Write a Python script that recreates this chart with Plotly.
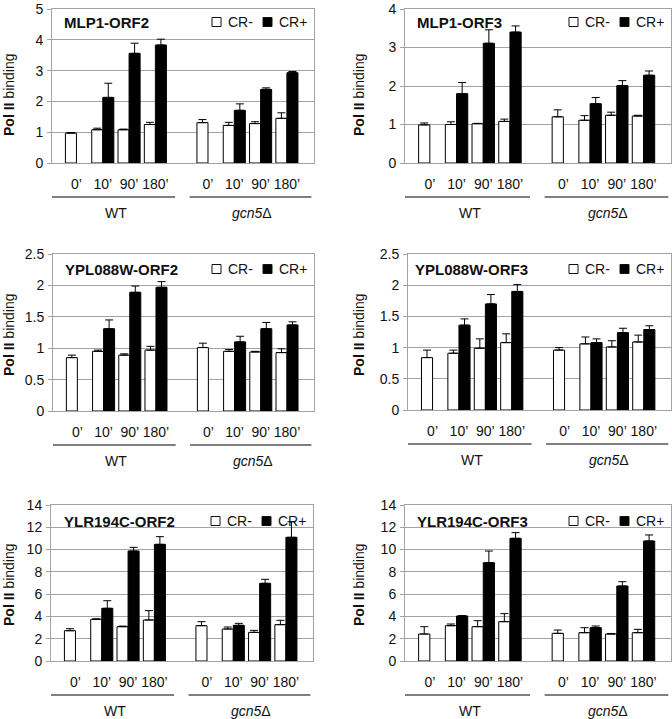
import plotly.graph_objects as go

W, H = 672, 719
FONT = "Liberation Sans, Arial, Helvetica, sans-serif"
GRID = "#a3a3a3"

# ---------------- data ----------------
times = ["0’", "10’", "90’", "180’"]
strain_keys = ["WT", "gcn5Δ"]
strain_labels = ["WT", "<i>gcn5</i>Δ"]
series_names = ["CR-", "CR+"]
series_colors = ["white", "black"]
y_title = "<b>Pol II</b> binding"

panel_titles = ["MLP1-ORF2", "MLP1-ORF3", "YPL088W-ORF2",
                "YPL088W-ORF3", "YLR194C-ORF2", "YLR194C-ORF3"]

# order: WT 0',10',90',180', gcn5Δ 0',10',90',180'
mlp1_orf2_minus = [0.97, 1.08, 1.08, 1.25, 1.31, 1.22, 1.28, 1.45]
mlp1_orf2_minus_err = [0.02, 0.05, 0.02, 0.07, 0.10, 0.10, 0.06, 0.18]
mlp1_orf2_plus = [None, 2.13, 3.56, 3.83, None, 1.71, 2.39, 2.93]
mlp1_orf2_plus_err = [None, 0.46, 0.33, 0.19, None, 0.21, 0.05, 0.04]

mlp1_orf3_minus = [0.99, 1.00, 1.02, 1.08, 1.20, 1.11, 1.24, 1.22]
mlp1_orf3_minus_err = [0.05, 0.07, 0.01, 0.06, 0.18, 0.12, 0.08, 0.02]
mlp1_orf3_plus = [None, 1.80, 3.11, 3.40, None, 1.54, 2.01, 2.28]
mlp1_orf3_plus_err = [None, 0.29, 0.35, 0.16, None, 0.16, 0.13, 0.11]

ypl088w_orf2_minus = [0.85, 0.95, 0.89, 0.97, 1.01, 0.95, 0.94, 0.93]
ypl088w_orf2_minus_err = [0.04, 0.02, 0.02, 0.06, 0.07, 0.03, 0.01, 0.06]
ypl088w_orf2_plus = [None, 1.31, 1.89, 1.97, None, 1.10, 1.31, 1.37]
ypl088w_orf2_plus_err = [None, 0.14, 0.10, 0.09, None, 0.09, 0.10, 0.05]

ypl088w_orf3_minus = [0.84, 0.91, 0.99, 1.08, 0.96, 1.06, 1.01, 1.09]
ypl088w_orf3_minus_err = [0.12, 0.05, 0.15, 0.14, 0.04, 0.11, 0.10, 0.11]
ypl088w_orf3_plus = [None, 1.36, 1.70, 1.90, None, 1.08, 1.24, 1.29]
ypl088w_orf3_plus_err = [None, 0.10, 0.15, 0.11, None, 0.06, 0.07, 0.06]

ylr194c_orf2_minus = [2.72, 3.74, 3.08, 3.68, 3.17, 2.87, 2.57, 3.26]
ylr194c_orf2_minus_err = [0.18, 0.05, 0.05, 0.84, 0.36, 0.18, 0.18, 0.39]
ylr194c_orf2_plus = [None, 4.73, 9.87, 10.47, None, 3.20, 6.97, 11.10]
ylr194c_orf2_plus_err = [None, 0.68, 0.33, 0.69, None, 0.18, 0.36, 1.40]

ylr194c_orf3_minus = [2.42, 3.17, 3.08, 3.53, 2.48, 2.54, 2.42, 2.54]
ylr194c_orf3_minus_err = [0.66, 0.15, 0.54, 0.72, 0.30, 0.45, 0.05, 0.30]
ylr194c_orf3_plus = [None, 4.04, 8.82, 11.01, None, 2.99, 6.73, 10.77]
ylr194c_orf3_plus_err = [None, 0.03, 1.05, 0.51, None, 0.15, 0.39, 0.54]

y_max = [5, 4, 2.5, 2.5, 14, 14]
y_step = [1, 1, 0.5, 0.5, 2, 2]

panels = [
    (mlp1_orf2_minus, mlp1_orf2_minus_err, mlp1_orf2_plus, mlp1_orf2_plus_err),
    (mlp1_orf3_minus, mlp1_orf3_minus_err, mlp1_orf3_plus, mlp1_orf3_plus_err),
    (ypl088w_orf2_minus, ypl088w_orf2_minus_err, ypl088w_orf2_plus, ypl088w_orf2_plus_err),
    (ypl088w_orf3_minus, ypl088w_orf3_minus_err, ypl088w_orf3_plus, ypl088w_orf3_plus_err),
    (ylr194c_orf2_minus, ylr194c_orf2_minus_err, ylr194c_orf2_plus, ylr194c_orf2_plus_err),
    (ylr194c_orf3_minus, ylr194c_orf3_minus_err, ylr194c_orf3_plus, ylr194c_orf3_plus_err),
]

# ---------------- layout geometry (pixels) ----------------
plot_boxes = [  # (left, right, top, bottom)
    (52, 314, 9, 163),
    (405, 671, 9, 163),
    (53, 314, 254, 411),
    (408, 671, 254, 410),
    (51, 313, 505, 661),
    (405, 671, 505, 661),
]
title_pos = [(62, 22), (415, 22), (63, 269), (413, 269), (62, 521), (415, 521)]
ytitle_pos = [(9, 95), (359, 95), (9, 335), (359, 335), (9, 585), (359, 585)]


def fx(p):
    return p / W


def fy(p):
    return 1 - p / H


cats = [f"{s}|{t}" for s in strain_keys for t in times]
cat_order = cats[:4] + ["gap"] + cats[4:]

fig = go.Figure()
annotations = []
shapes = []

for i, (vm, em, vp, ep) in enumerate(panels):
    n = i + 1
    xa = "x" if n == 1 else f"x{n}"
    ya = "y" if n == 1 else f"y{n}"
    for name, color, vals, errs in ((series_names[0], series_colors[0], vm, em),
                                    (series_names[1], series_colors[1], vp, ep)):
        fig.add_trace(go.Bar(
            x=cats, y=vals, name=name, xaxis=xa, yaxis=ya,
            showlegend=False,
            marker=dict(color=color, line=dict(color="black", width=1)),
            error_y=dict(type="data", array=errs, arrayminus=[0] * len(errs),
                         symmetric=False, color="black", thickness=1, width=4),
        ))

    l, r, t, b = plot_boxes[i]
    xkey = "xaxis" if n == 1 else f"xaxis{n}"
    ykey = "yaxis" if n == 1 else f"yaxis{n}"
    fig.update_layout(**{
        xkey: dict(
            domain=[fx(l), fx(r)], anchor=ya, type="category",
            categoryorder="array", categoryarray=cat_order,
            range=[-0.93, 9.03], tickmode="array", tickvals=cats,
            ticktext=times + times, ticks="", ticklabelstandoff=8,
            showline=True, mirror=True, linecolor=GRID, linewidth=1,
            showgrid=False, zeroline=False,
            tickfont=dict(family=FONT, size=14, color="#111"),
        ),
        ykey: dict(
            domain=[fy(b), fy(t)], anchor=xa, range=[0, y_max[i]],
            dtick=y_step[i], tick0=0, ticks="outside", ticklen=4,
            tickcolor=GRID, ticklabelstandoff=1, ticklabeloverflow="allow",
            showline=True, mirror=True, linecolor=GRID, linewidth=1,
            showgrid=True, gridcolor=GRID, gridwidth=1, zeroline=False,
            tickfont=dict(family=FONT, size=14, color="#111"),
        ),
    })

    # panel title
    annotations.append(dict(
        text=f"<b>{panel_titles[i]}</b>", x=fx(title_pos[i][0]), y=fy(title_pos[i][1]),
        xref="paper", yref="paper", xanchor="left", yanchor="middle",
        showarrow=False, font=dict(family=FONT, size=15, color="#111"),
    ))
    # legend key (CR- / CR+) inside the top-right corner
    ly = title_pos[i][1]
    for (sq_off, txt_off), name, color in zip(((102, 88), (51, 37)), series_names, series_colors):
        shapes.append(dict(
            type="rect", xref="paper", yref="paper",
            x0=fx(r - sq_off), x1=fx(r - sq_off + 9),
            y0=fy(ly + 4.5), y1=fy(ly - 4.5),
            fillcolor=color, line=dict(color="#111", width=1),
        ))
        annotations.append(dict(
            text=name, x=fx(r - txt_off), y=fy(ly),
            xref="paper", yref="paper", xanchor="left", yanchor="middle",
            showarrow=False, font=dict(family=FONT, size=14, color="#111"),
        ))
    # y-axis title
    annotations.append(dict(
        text=y_title, x=fx(ytitle_pos[i][0]), y=fy(ytitle_pos[i][1]),
        xref="paper", yref="paper", xanchor="center", yanchor="middle",
        textangle=-90, showarrow=False, font=dict(family=FONT, size=14, color="#111"),
    ))
    # group underlines and labels
    width = r - l
    groups = [(0.0, 0.47), (0.525, 0.99)]
    for (g0, g1), lab in zip(groups, strain_labels):
        shapes.append(dict(
            type="line", xref="paper", yref="paper",
            x0=fx(l + g0 * width), x1=fx(l + g1 * width),
            y0=fy(b + 34), y1=fy(b + 34), line=dict(color="black", width=1.2),
        ))
        annotations.append(dict(
            text=lab, x=fx(l + (g0 + g1) / 2 * width + 2), y=fy(b + 50),
            xref="paper", yref="paper", xanchor="center", yanchor="middle",
            showarrow=False, font=dict(family=FONT, size=14, color="#111"),
        ))

fig.update_layout(
    width=W, height=H,
    margin=dict(l=0, r=0, t=0, b=0, pad=0, autoexpand=False),
    paper_bgcolor="white", plot_bgcolor="white",
    barmode="group", bargap=0.16, bargroupgap=0,
    showlegend=False, annotations=annotations, shapes=shapes,
    font=dict(family=FONT, size=14, color="#111"),
)

fig.write_html(
    "out.html",
    config={"displayModeBar": False},
    post_script="document.body.style.margin='0px';document.body.style.overflow='hidden';",
)
